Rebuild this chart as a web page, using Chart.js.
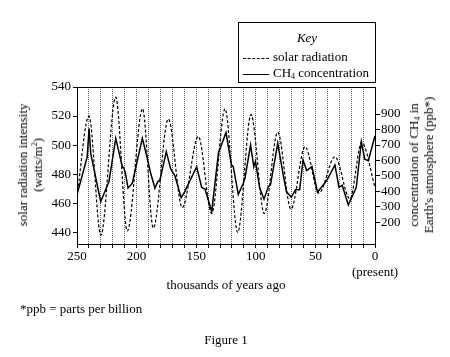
<!DOCTYPE html>
<html>
<head>
<meta charset="utf-8">
<script src="https://cdn.jsdelivr.net/npm/chart.js@4/dist/chart.umd.min.js"></script>
<style>
  html, body { margin: 0; padding: 0; background: #fff; }
  body { width: 450px; height: 357px; position: relative; overflow: hidden;
         font-family: "Liberation Serif", "DejaVu Serif", serif; color: #000; }
  #c { position: absolute; left: 0; top: 0; }
  .t { position: absolute; white-space: nowrap; font-size: 13px; line-height: 15px; }
  .rot { transform: translate(-50%, -50%) rotate(-90deg); text-align: center; }
  .ctr { transform: translate(-50%, -50%); }
  sub { font-size: 8px; vertical-align: -2px; line-height: 0; }
  #key { position: absolute; left: 238px; top: 22px; width: 136px; height: 59px;
         border: 1px solid #000; font-size: 13px; }
  #key .k { position: absolute; left: 0; right: 0; top: 7px; text-align: center; font-style: italic; }
  #key .row { position: absolute; left: 4px; white-space: nowrap; line-height: 15px; }
  #key .s { display: inline-block; width: 26px; vertical-align: middle; margin-right: 4px; }
</style>
</head>
<body>
<canvas id="c" width="450" height="357"></canvas>

<div id="key">
  <div class="k">Key</div>
  <div class="row" style="top:26px"><span class="s" style="border-top:1.3px dashed #000"></span>solar radiation</div>
  <div class="row" style="top:42px"><span class="s" style="border-top:1.5px solid #000"></span>CH<sub>4</sub> concentration</div>
</div>

<div class="t rot" style="left:30px; top:165px">solar radiation intensity<br>(watts/m<sup style="font-size:8px;line-height:0">2</sup>)</div>
<div class="t rot" style="left:421px; top:165px">concentration of CH<sub>4</sub> in<br>Earth's atmosphere (ppb*)</div>
<div class="t ctr" style="left:226px; top:284px">thousands of years ago</div>
<div class="t" style="left:20px; top:301px">*ppb = parts per billion</div>
<div class="t ctr" style="left:226px; top:339px">Figure 1</div>

<script>
// ---- data (thousands of years ago) ----
const solarYears  = [250, 240, 230, 217.5, 207.8, 195, 186, 173.4, 161.7, 148.2, 137, 125.8, 115.2, 104, 92.9, 81.6, 70.5, 58.7, 47, 33.6, 21, 11.2, 0];
const solarValues = [465, 520, 438, 533, 441, 525, 443, 518, 457, 506, 453, 525, 440, 521, 453, 509, 456, 499, 467, 492, 463, 502, 471];

const ch4Years  = [250, 241.4, 239.9, 238.5, 230.1, 223.2, 217.5, 212.0, 210.6, 209.1, 207.2, 203.6, 195.2, 191.0, 188.2, 184.6, 182.3, 180.4, 175.1, 171.4, 167.8, 162.6, 159.8, 149.6, 145.4, 142.6, 137.0, 131.3, 125.0, 120.4, 118.9, 114.7, 110.5, 109.1, 104.4, 101.7, 100.3, 96.7, 93.1, 89.5, 87.7, 81.6, 77.2, 74.4, 70.2, 66.7, 63.2, 60.4, 57.3, 52.9, 48.2, 40.5, 33.6, 30.2, 27.5, 22.4, 15.7, 11.5, 8.6, 5.6, 0];
const ch4Values = [378, 625, 808, 646, 334, 463, 743, 560, 550, 507, 421, 453, 743, 614, 517, 421, 463, 474, 657, 545, 500, 360, 395, 560, 425, 415, 270, 650, 780, 571, 560, 380, 453, 485, 700, 560, 595, 420, 350, 431, 442, 711, 517, 400, 362, 410, 410, 603, 535, 560, 395, 470, 571, 425, 440, 313, 425, 721, 608, 598, 760];

const xTicks     = [250, 240, 230, 220, 210, 200, 190, 180, 170, 160, 150, 140, 130, 120, 110, 100, 90, 80, 70, 60, 50, 40, 30, 20, 10, 0];
const xLabeled   = [250, 200, 150, 100, 50, 0];
const leftTicks  = [440, 460, 480, 500, 520, 540];
const rightTicks = [200, 300, 400, 500, 600, 700, 800, 900];

const FONT = { family: '"Liberation Serif", "DejaVu Serif", serif', size: 13 };

const frame = {
  id: 'frame',
  afterDraw(chart) {
    const { ctx, chartArea: a } = chart;
    ctx.save();
    ctx.strokeStyle = '#000';
    ctx.lineWidth = 1;
    ctx.beginPath();
    ctx.moveTo(a.left, Math.round(a.top) + 0.5);
    ctx.lineTo(a.right, Math.round(a.top) + 0.5);
    ctx.stroke();
    ctx.restore();
  }
};

new Chart(document.getElementById('c'), {
  type: 'line',
  data: {
    datasets: [
      {
        label: 'solar radiation',
        data: solarYears.map((x, i) => ({ x, y: solarValues[i] })),
        yAxisID: 'y',
        borderColor: '#000',
        borderWidth: 1.2,
        borderDash: [3, 2],
        pointRadius: 0,
        cubicInterpolationMode: 'monotone',
        fill: false
      },
      {
        label: 'CH4 concentration',
        data: ch4Years.map((x, i) => ({ x, y: ch4Values[i] })),
        yAxisID: 'y1',
        borderColor: '#000',
        borderWidth: 1.5,
        pointRadius: 0,
        tension: 0,
        fill: false
      }
    ]
  },
  options: {
    responsive: false,
    animation: false,
    events: [],
    layout: { padding: { left: 0, right: 0, top: 87, bottom: 73 } },
    plugins: { legend: { display: false }, tooltip: { enabled: false } },
    scales: {
      x: {
        type: 'linear',
        reverse: true,
        min: 0, max: 250,
        afterBuildTicks: s => { s.ticks = xTicks.map(v => ({ value: v })); },
        afterFit: s => { s.height = 40; },
        ticks: {
          autoSkip: false, maxRotation: 0, color: '#000', font: FONT, padding: 1,
          callback: v => xLabeled.includes(v) ? (v === 0 ? ['0', '(present)'] : String(v)) : ''
        },
        grid: {
          color: c => (c.tick && (c.tick.value === 0 || c.tick.value === 250)) ? 'rgba(0,0,0,0)' : '#666',
          lineWidth: 1,
          tickLength: 4,
          tickColor: '#000',
          tickBorderDash: []
        },
        border: { display: true, color: '#000', width: 1, dash: [1, 1] }
      },
      y: {
        position: 'left',
        min: 432, max: 540,
        afterBuildTicks: s => { s.ticks = leftTicks.map(v => ({ value: v })); },
        afterFit: s => { s.width = 77; },
        ticks: { color: '#000', font: FONT, padding: 2 },
        grid: { drawOnChartArea: false, tickLength: 4, tickColor: '#000' },
        border: { display: true, color: '#000', width: 1 }
      },
      y1: {
        position: 'right',
        min: 60, max: 1075,
        afterBuildTicks: s => { s.ticks = rightTicks.map(v => ({ value: v })); },
        afterFit: s => { s.width = 75; },
        ticks: { color: '#000', font: FONT, padding: 1 },
        grid: { drawOnChartArea: false, tickLength: 5, tickColor: '#000' },
        border: { display: true, color: '#000', width: 1 }
      }
    }
  },
  plugins: [frame]
});
</script>
</body>
</html>
